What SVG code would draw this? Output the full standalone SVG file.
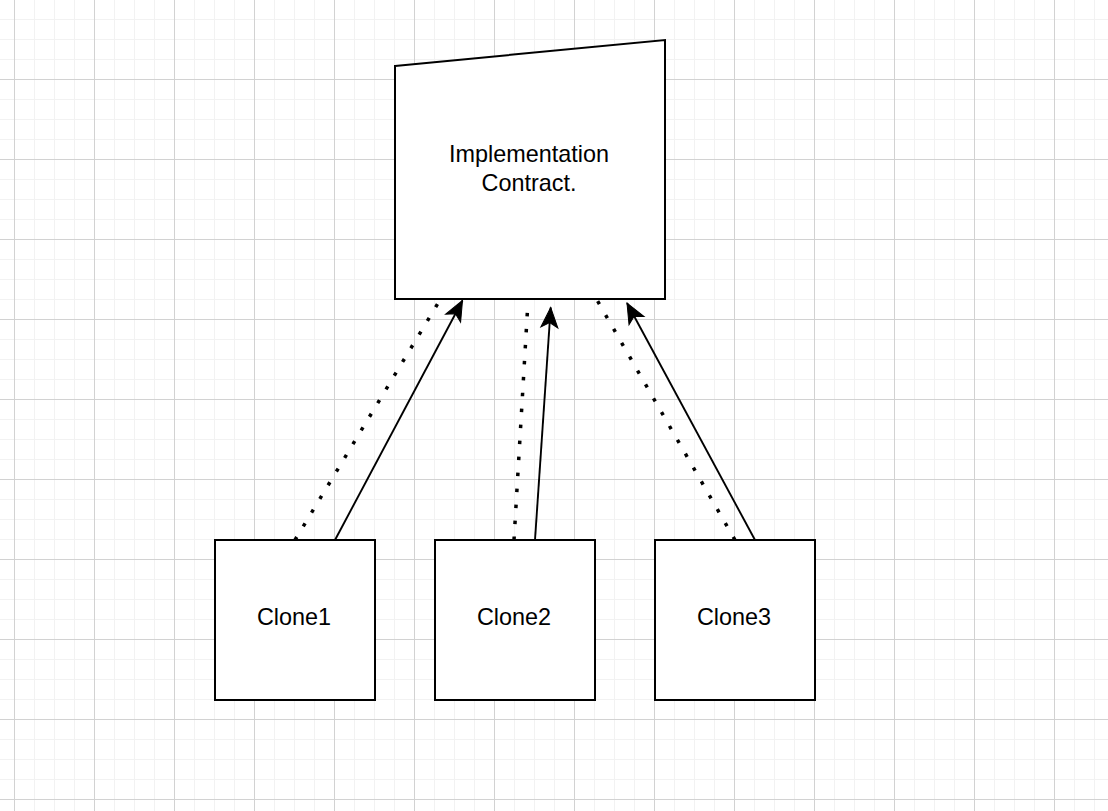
<svg xmlns="http://www.w3.org/2000/svg" width="1108" height="811" viewBox="0 0 1108 811">
  <style>
    .shape { fill: #ffffff; stroke: #000000; stroke-width: 2; }
    .label { font-family: "Liberation Sans", Arial, sans-serif; font-size: 23.4px; fill: #000000; text-anchor: middle; }
    .dot { fill: none; stroke: #000000; stroke-width: 3.5; stroke-dasharray: 3.5 12.5; }
    .ref { fill: none; stroke: #000000; stroke-width: 1.9; }
  </style>
  <defs>
    <pattern id="grid" patternUnits="userSpaceOnUse" x="14" y="-1" width="80" height="80">
      <g stroke="#f2f2f2" stroke-width="1">
        <line x1="20.5" y1="0" x2="20.5" y2="80"/>
        <line x1="40.5" y1="0" x2="40.5" y2="80"/>
        <line x1="60.5" y1="0" x2="60.5" y2="80"/>
        <line x1="0" y1="20.5" x2="80" y2="20.5"/>
        <line x1="0" y1="40.5" x2="80" y2="40.5"/>
        <line x1="0" y1="60.5" x2="80" y2="60.5"/>
      </g>
      <g stroke="#d2d2d2" stroke-width="1">
        <line x1="0.5" y1="0" x2="0.5" y2="80"/>
        <line x1="0" y1="0.5" x2="80" y2="0.5"/>
      </g>
    </pattern>
    <marker id="arrow" markerUnits="userSpaceOnUse" markerWidth="24" markerHeight="20" viewBox="-22 -10 24 20" refX="0" refY="0" orient="auto">
      <path d="M0,0 L-20,-8.5 L-15,0 L-20,8.5 Z" fill="#000000" stroke="#000000" stroke-width="1" stroke-linejoin="miter"/>
    </marker>
  </defs>
  <rect width="1108" height="811" fill="#ffffff"/>
  <rect width="1108" height="811" fill="url(#grid)"/>

  <g id="connectors">
    <path class="dot" d="M295,540 L440,300"/>
    <path class="dot" d="M514,540 L527.6,308"/>
    <path class="dot" d="M735,540 L597,300"/>
    <path class="ref" d="M335,540 L462.5,300.5" marker-end="url(#arrow)"/>
    <path class="ref" d="M535,540 L550.7,307.5" marker-end="url(#arrow)"/>
    <path class="ref" d="M755,540 L627,303" marker-end="url(#arrow)"/>
  </g>

  <g id="implementation">
    <polygon class="shape" points="395,66 665,40 665,299 395,299"/>
    <text class="label" x="529" y="161.5">Implementation</text>
    <text class="label" x="529" y="190.5">Contract.</text>
  </g>
  <g id="clone1">
    <rect class="shape" x="215" y="540" width="160" height="160"/>
    <text class="label" x="294" y="625">Clone1</text>
  </g>
  <g id="clone2">
    <rect class="shape" x="435" y="540" width="160" height="160"/>
    <text class="label" x="514" y="625">Clone2</text>
  </g>
  <g id="clone3">
    <rect class="shape" x="655" y="540" width="160" height="160"/>
    <text class="label" x="734" y="625">Clone3</text>
  </g>
</svg>
